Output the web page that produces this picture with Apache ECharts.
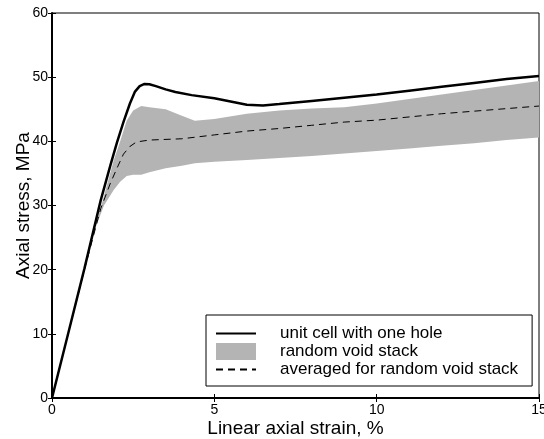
<!DOCTYPE html>
<html>
<head>
<meta charset="utf-8">
<script src="https://cdn.jsdelivr.net/npm/echarts@6/dist/echarts.min.js"></script>
<style>
  html, body { margin: 0; padding: 0; background: #fff; }
  #chart { width: 544px; height: 439px; }
</style>
</head>
<body>
<div id="chart"></div>
<script>
// unit cell with one hole (solid)
var unitX = [0, 0.5, 1, 1.5, 1.8, 2.0, 2.2, 2.4, 2.55, 2.7, 2.85, 3.0, 3.2, 3.5, 3.8, 4.3, 5, 5.5, 6, 6.5, 7, 8, 9, 10, 11, 12, 13, 14, 15];
var unitY = [0, 10.1, 20.2, 30.8, 36.3, 39.8, 43.0, 45.9, 47.7, 48.6, 48.95, 48.9, 48.6, 48.1, 47.7, 47.2, 46.7, 46.2, 45.7, 45.6, 45.8, 46.3, 46.8, 47.3, 47.9, 48.5, 49.1, 49.7, 50.2];

// random void stack (grey band)
var bandX = [1.3, 1.6, 1.9, 2.1, 2.3, 2.5, 2.75, 3.0, 3.5, 4.0, 4.4, 5, 6, 7, 8, 9, 10, 11, 12, 13, 14, 15];
var bandLow = [26, 30, 32.4, 33.7, 34.6, 34.8, 34.8, 35.2, 35.8, 36.2, 36.6, 36.8, 37.1, 37.4, 37.7, 38.1, 38.5, 38.9, 39.3, 39.7, 40.2, 40.6];
var bandHigh = [26, 31.5, 37, 40, 43.2, 44.8, 45.5, 45.3, 45.0, 44.0, 43.2, 43.5, 44.3, 44.8, 45.1, 45.3, 45.9, 46.6, 47.3, 48.0, 48.7, 49.4];

// averaged for random void stack (dashed)
var avgX = [0, 0.5, 1, 1.5, 1.8, 2.0, 2.2, 2.4, 2.6, 3, 4, 5, 6, 7, 8, 9, 10, 11, 12, 13, 14, 15];
var avgY = [0, 10, 20, 29.5, 33.5, 35.8, 38.0, 39.2, 39.9, 40.2, 40.4, 41.0, 41.6, 42.0, 42.5, 43.0, 43.3, 43.8, 44.3, 44.7, 45.1, 45.5];

var xTicks = [0, 5, 10, 15];
var yTicks = [0, 10, 20, 30, 40, 50, 60];

function pairs(xs, ys) {
    return xs.map(function (x, i) { return [x, ys[i]]; });
}

var font = 'Liberation Sans, Arial, sans-serif';
var myChart = echarts.init(document.getElementById('chart'));

// band polygon: upper edge left->right, then lower edge right->left
function renderBand(params, api) {
    if (params.dataIndex !== 0) return;
    var pts = [];
    for (var i = 0; i < bandX.length; i++) pts.push(api.coord([bandX[i], bandHigh[i]]));
    for (var j = bandX.length - 1; j >= 0; j--) pts.push(api.coord([bandX[j], bandLow[j]]));
    return {
        type: 'polygon',
        shape: { points: pts },
        style: { fill: '#b4b4b4', stroke: null }
    };
}

var option = {
    animation: false,
    backgroundColor: '#fff',
    grid: {
        left: 52, right: 5, top: 13, bottom: 41,
        outerBoundsMode: 'none',
        show: true, borderColor: '#000', borderWidth: 1
    },
    legend: {
        orient: 'vertical',
        left: 206, top: 315,
        backgroundColor: '#fff',
        borderColor: '#000', borderWidth: 1, borderRadius: 0,
        padding: [10, 14, 8, 9],
        itemWidth: 40, itemHeight: 17, itemGap: 1,
        textStyle: { fontFamily: font, fontSize: 17, color: '#000', padding: [0, 0, 0, 19] },
        data: [
            { name: 'unit cell with one hole', itemStyle: { opacity: 0 } },
            { name: 'random void stack', icon: 'rect', itemStyle: { color: '#b4b4b4', borderWidth: 0 } },
            { name: 'averaged for random void stack', itemStyle: { opacity: 0 } }
        ]
    },
    xAxis: [{
        type: 'value', min: 0, max: 15, interval: 5, z: 5,
        name: 'Linear axial strain, %', nameLocation: 'middle', nameGap: 21,
        nameMoveOverlap: false,
        nameTextStyle: { fontFamily: font, fontSize: 19, color: '#000' },
        axisLine: { lineStyle: { color: '#000', width: 2 } },
        axisTick: { inside: true, length: 4, lineStyle: { color: '#000' } },
        axisLabel: { fontFamily: font, fontSize: 14, color: '#000', margin: 5,
            formatter: function (v) { return xTicks.indexOf(v) >= 0 ? String(v) : ''; } },
        splitLine: { show: false }
    }, {
        type: 'value', min: 0, max: 15, interval: 5, position: 'top', z: 5,
        axisLine: { show: false },
        axisTick: { inside: true, length: 4, lineStyle: { color: '#000' } },
        axisLabel: { show: false }, splitLine: { show: false }
    }],
    yAxis: [{
        type: 'value', min: 0, max: 60, interval: 10, z: 5,
        name: 'Axial stress, MPa', nameLocation: 'middle', nameGap: 19,
        nameMoveOverlap: false,
        nameTextStyle: { fontFamily: font, fontSize: 19, color: '#000' },
        axisLine: { show: true, lineStyle: { color: '#000', width: 2 } },
        axisTick: { show: true, inside: true, length: 4, lineStyle: { color: '#000' } },
        axisLabel: { fontFamily: font, fontSize: 14, color: '#000', margin: 4,
            formatter: function (v) { return yTicks.indexOf(v) >= 0 ? String(v) : ''; } },
        splitLine: { show: false }
    }, {
        type: 'value', min: 0, max: 60, interval: 10, position: 'right', z: 5,
        axisLine: { show: false },
        axisTick: { show: true, inside: true, length: 4, lineStyle: { color: '#000' } },
        axisLabel: { show: false }, splitLine: { show: false }
    }],
    series: [
        {
            name: 'random void stack', type: 'custom',
            data: pairs(bandX, bandHigh),
            renderItem: renderBand,
            itemStyle: { color: '#b4b4b4' },
            clip: true, silent: true, z: 1
        },
        {
            name: 'averaged for random void stack', type: 'line',
            data: pairs(avgX, avgY),
            symbol: 'none',
            itemStyle: { color: '#000' },
            lineStyle: { color: '#000', width: 1, type: [7, 5] },
            z: 2
        },
        {
            name: 'unit cell with one hole', type: 'line',
            data: pairs(unitX, unitY),
            symbol: 'none',
            itemStyle: { color: '#000' },
            lineStyle: { color: '#000', width: 2.5 },
            z: 3
        }
    ]
};

myChart.setOption(option);
</script>
</body>
</html>
